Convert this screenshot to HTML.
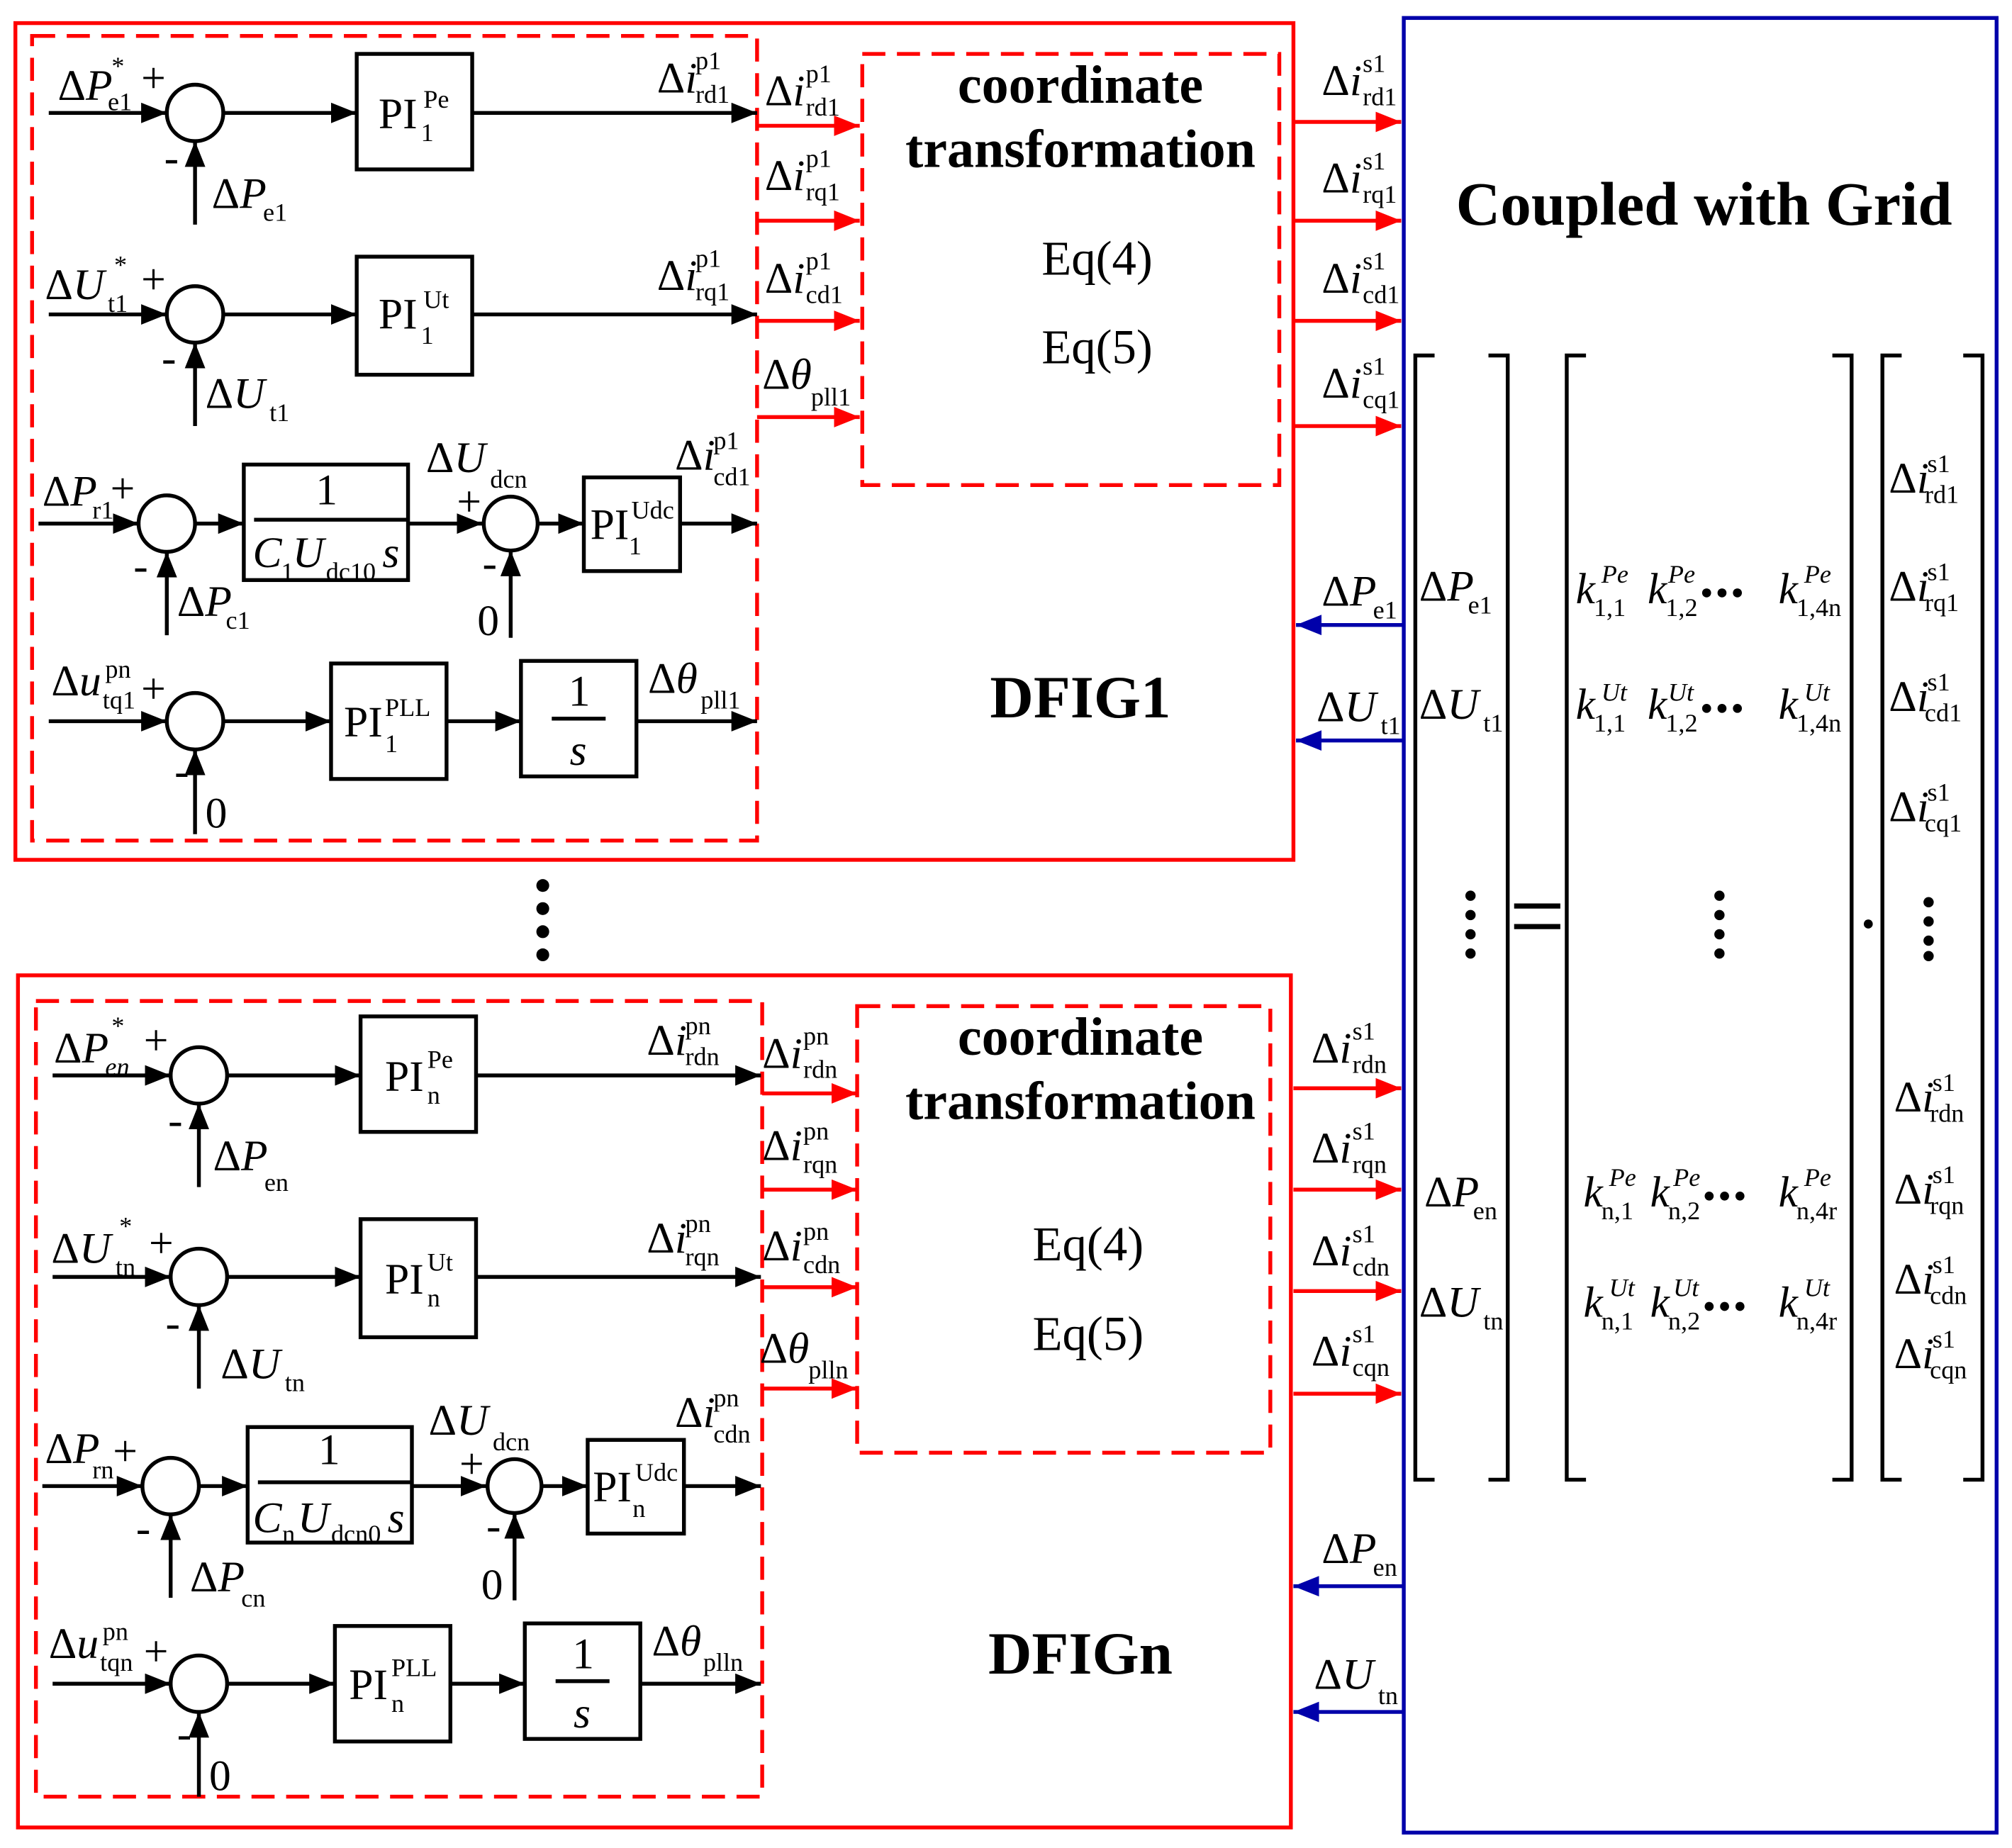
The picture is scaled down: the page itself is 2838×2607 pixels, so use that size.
<!DOCTYPE html>
<html><head><meta charset="utf-8"><style>
html,body{margin:0;padding:0;background:#fff}
svg{display:block}
text{font-family:"Liberation Serif",serif;fill:#000}
.b{font-size:34px}
.s{font-size:20px}
.i{font-style:italic}
</style></head><body>
<svg width="2838" height="2607" viewBox="0 0 1568 1440" preserveAspectRatio="none" xmlns="http://www.w3.org/2000/svg">
<defs>
<marker id="ar" markerWidth="20" markerHeight="16" refX="20" refY="8" orient="auto" markerUnits="userSpaceOnUse"><path d="M0,0L20,8L0,16z" fill="#f00"/></marker>
<marker id="ab" markerWidth="20" markerHeight="16" refX="20" refY="8" orient="auto" markerUnits="userSpaceOnUse"><path d="M0,0L20,8L0,16z" fill="#00a"/></marker>
<marker id="k" markerWidth="20" markerHeight="16" refX="20" refY="8" orient="auto" markerUnits="userSpaceOnUse"><path d="M0,0L20,8L0,16z" fill="#000"/></marker>
<g id="ctl" fill="none" stroke="#000" stroke-width="3">
 <line x1="38" y1="88" x2="130" y2="88" marker-end="url(#k)"/>
 <circle cx="152" cy="88" r="22"/>
 <line x1="174" y1="88" x2="278" y2="88" marker-end="url(#k)"/>
 <rect x="278" y="42" width="90" height="90"/>
 <line x1="368" y1="88" x2="590" y2="88" marker-end="url(#k)"/>
 <line x1="152" y1="175" x2="152" y2="110" marker-end="url(#k)"/>
 <line x1="38" y1="245" x2="130" y2="245" marker-end="url(#k)"/>
 <circle cx="152" cy="245" r="22"/>
 <line x1="174" y1="245" x2="278" y2="245" marker-end="url(#k)"/>
 <rect x="278" y="200" width="90" height="92"/>
 <line x1="368" y1="245" x2="590" y2="245" marker-end="url(#k)"/>
 <line x1="152" y1="332" x2="152" y2="267" marker-end="url(#k)"/>
 <line x1="30" y1="408" x2="108" y2="408" marker-end="url(#k)"/>
 <circle cx="130" cy="408" r="22"/>
 <line x1="152" y1="408" x2="190" y2="408" marker-end="url(#k)"/>
 <rect x="190" y="362" width="128" height="90"/>
 <line x1="198" y1="405" x2="318" y2="405"/>
 <line x1="318" y1="408" x2="376" y2="408" marker-end="url(#k)"/>
 <circle cx="398" cy="408" r="21"/>
 <line x1="419" y1="408" x2="455" y2="408" marker-end="url(#k)"/>
 <rect x="455" y="372" width="75" height="73"/>
 <line x1="530" y1="408" x2="590" y2="408" marker-end="url(#k)"/>
 <line x1="130" y1="495" x2="130" y2="430" marker-end="url(#k)"/>
 <line x1="398" y1="497" x2="398" y2="429" marker-end="url(#k)"/>
 <line x1="38" y1="562" x2="130" y2="562" marker-end="url(#k)"/>
 <circle cx="152" cy="562" r="22"/>
 <line x1="174" y1="562" x2="258" y2="562" marker-end="url(#k)"/>
 <rect x="258" y="517" width="90" height="90"/>
 <line x1="348" y1="562" x2="406" y2="562" marker-end="url(#k)"/>
 <rect x="406" y="515" width="90" height="90"/>
 <line x1="430" y1="560" x2="472" y2="560"/>
 <line x1="496" y1="562" x2="590" y2="562" marker-end="url(#k)"/>
 <line x1="152" y1="650" x2="152" y2="584" marker-end="url(#k)"/>
</g>
</defs>

<rect x="12" y="18" width="996" height="652" fill="none" stroke="#f00" stroke-width="3"/>
<rect x="25" y="28" width="565" height="627" fill="none" stroke="#f00" stroke-width="3" stroke-dasharray="18,9"/>
<rect x="672" y="42" width="325" height="336" fill="none" stroke="#f00" stroke-width="3" stroke-dasharray="18,9"/>
<use href="#ctl"/>
<g stroke="#f00" stroke-width="3">
<line x1="590" y1="98" x2="670" y2="98" marker-end="url(#ar)"/>
<line x1="590" y1="172" x2="670" y2="172" marker-end="url(#ar)"/>
<line x1="590" y1="250" x2="670" y2="250" marker-end="url(#ar)"/>
<line x1="590" y1="325" x2="670" y2="325" marker-end="url(#ar)"/>
<line x1="1008" y1="95" x2="1092" y2="95" marker-end="url(#ar)"/>
<line x1="1008" y1="172" x2="1092" y2="172" marker-end="url(#ar)"/>
<line x1="1008" y1="250" x2="1092" y2="250" marker-end="url(#ar)"/>
<line x1="1008" y1="332" x2="1092" y2="332" marker-end="url(#ar)"/>
</g>
<g stroke="#00a" stroke-width="3">
<line x1="1094" y1="487" x2="1010" y2="487" marker-end="url(#ab)"/>
<line x1="1094" y1="577" x2="1010" y2="577" marker-end="url(#ab)"/>
<line x1="1094" y1="1236" x2="1008" y2="1236" marker-end="url(#ab)"/>
<line x1="1094" y1="1334" x2="1008" y2="1334" marker-end="url(#ab)"/>
</g>
<text x="842" y="80" font-size="42" font-weight="bold" text-anchor="middle">coordinate</text>
<text x="842" y="130" font-size="42" font-weight="bold" text-anchor="middle">transformation</text>
<text x="855" y="214" font-size="38" text-anchor="middle">Eq(4)</text>
<text x="855" y="283" font-size="38" text-anchor="middle">Eq(5)</text>
<text x="842" y="559" font-size="47" font-weight="bold" text-anchor="middle">DFIG1</text>

<g class="b">
<text x="45" y="78">Δ<tspan class="i">P</tspan></text><text class="s i" x="86" y="58">*</text><text class="s" x="84" y="86">e1</text><text x="110" y="72">+</text>
<text x="128" y="134">-</text><text x="165" y="162">Δ<tspan class="i">P</tspan></text><text class="s" x="205" y="172">e1</text>
<text x="295" y="100">PI</text><text class="s" x="330" y="84">Pe</text><text class="s" x="328" y="110">1</text>
<text x="512" y="72">Δ<tspan class="i">i</tspan></text><text class="s" x="542" y="54">p1</text><text class="s" x="542" y="80">rd1</text>
<text x="596" y="82">Δ<tspan class="i">i</tspan></text><text class="s" x="628" y="64">p1</text><text class="s" x="628" y="90">rd1</text>
<text x="596" y="148">Δ<tspan class="i">i</tspan></text><text class="s" x="628" y="130">p1</text><text class="s" x="628" y="156">rq1</text>
<text x="596" y="228">Δ<tspan class="i">i</tspan></text><text class="s" x="628" y="210">p1</text><text class="s" x="628" y="236">cd1</text>
<text x="594" y="303">Δ<tspan class="i">θ</tspan></text><text class="s" x="632" y="316">pll1</text>

<text x="35" y="233">Δ<tspan class="i">U</tspan></text><text class="s i" x="88" y="213">*</text><text class="s" x="84" y="243">t1</text><text x="110" y="229">+</text>
<text x="126" y="290">-</text><text x="160" y="318">Δ<tspan class="i">U</tspan></text><text class="s" x="210" y="328">t1</text>
<text x="295" y="256">PI</text><text class="s" x="330" y="240">Ut</text><text class="s" x="328" y="268">1</text>
<text x="512" y="226">Δ<tspan class="i">i</tspan></text><text class="s" x="542" y="208">p1</text><text class="s" x="542" y="234">rq1</text>

<text x="33" y="394">Δ<tspan class="i">P</tspan></text><text class="s" x="72" y="404">r1</text><text x="86" y="392">+</text>
<text x="104" y="452">-</text><text x="138" y="480">Δ<tspan class="i">P</tspan></text><text class="s" x="176" y="490">c1</text>
<text x="246" y="393">1</text>
<text class="i" x="197" y="442">C</text><text class="s" x="219" y="452">1</text><text class="i" x="228" y="442">U</text><text class="s" x="254" y="452">dc10</text><text class="i" x="298" y="442">s</text>
<text x="332" y="368">Δ<tspan class="i">U</tspan></text><text class="s" x="382" y="380">dcn</text>
<text x="356" y="402">+</text><text x="376" y="450">-</text><text x="372" y="495">0</text>
<text x="460" y="420">PI</text><text class="s" x="492" y="404">Udc</text><text class="s" x="490" y="432">1</text>
<text x="526" y="366">Δ<tspan class="i">i</tspan></text><text class="s" x="556" y="350">p1</text><text class="s" x="556" y="378">cd1</text>

<text x="40" y="542">Δ<tspan class="i">u</tspan></text><text class="s" x="82" y="528">pn</text><text class="s" x="80" y="552">tq1</text><text x="110" y="548">+</text>
<text x="136" y="612">-</text><text x="160" y="645">0</text>
<text x="268" y="574">PI</text><text class="s" x="300" y="558">PLL</text><text class="s" x="300" y="586">1</text>
<text x="443" y="550">1</text><text class="i" x="444" y="596">s</text>
<text x="505" y="540">Δ<tspan class="i">θ</tspan></text><text class="s" x="546" y="552">pll1</text>

<text x="1030" y="74">Δ<tspan class="i">i</tspan></text><text class="s" x="1062" y="56">s1</text><text class="s" x="1062" y="82">rd1</text>
<text x="1030" y="150">Δ<tspan class="i">i</tspan></text><text class="s" x="1062" y="132">s1</text><text class="s" x="1062" y="158">rq1</text>
<text x="1030" y="228">Δ<tspan class="i">i</tspan></text><text class="s" x="1062" y="210">s1</text><text class="s" x="1062" y="236">cd1</text>
<text x="1030" y="310">Δ<tspan class="i">i</tspan></text><text class="s" x="1062" y="292">s1</text><text class="s" x="1062" y="318">cq1</text>
<text x="1030" y="472">Δ<tspan class="i">P</tspan></text><text class="s" x="1070" y="482">e1</text>
<text x="1026" y="562">Δ<tspan class="i">U</tspan></text><text class="s" x="1076" y="572">t1</text>
</g>

<g fill="#000"><circle cx="423" cy="690" r="5"/><circle cx="423" cy="708" r="5"/><circle cx="423" cy="726" r="5"/><circle cx="423" cy="744" r="5"/></g>

<rect x="14" y="760" width="992" height="664" fill="none" stroke="#f00" stroke-width="3"/>
<rect x="28" y="780" width="566" height="620" fill="none" stroke="#f00" stroke-width="3" stroke-dasharray="18,9"/>
<rect x="668" y="784" width="322" height="348" fill="none" stroke="#f00" stroke-width="3" stroke-dasharray="18,9"/>
<use href="#ctl" transform="translate(3,750)"/>
<g stroke="#f00" stroke-width="3">
<line x1="594" y1="852" x2="668" y2="852" marker-end="url(#ar)"/>
<line x1="594" y1="927" x2="668" y2="927" marker-end="url(#ar)"/>
<line x1="594" y1="1003" x2="668" y2="1003" marker-end="url(#ar)"/>
<line x1="594" y1="1082" x2="668" y2="1082" marker-end="url(#ar)"/>
<line x1="1008" y1="848" x2="1092" y2="848" marker-end="url(#ar)"/>
<line x1="1008" y1="927" x2="1092" y2="927" marker-end="url(#ar)"/>
<line x1="1008" y1="1006" x2="1092" y2="1006" marker-end="url(#ar)"/>
<line x1="1008" y1="1086" x2="1092" y2="1086" marker-end="url(#ar)"/>
</g>
<text x="842" y="822" font-size="42" font-weight="bold" text-anchor="middle">coordinate</text>
<text x="842" y="872" font-size="42" font-weight="bold" text-anchor="middle">transformation</text>
<text x="848" y="982" font-size="38" text-anchor="middle">Eq(4)</text>
<text x="848" y="1052" font-size="38" text-anchor="middle">Eq(5)</text>
<text x="842" y="1304" font-size="47" font-weight="bold" text-anchor="middle">DFIGn</text>

<g class="b">
<text x="42" y="828">Δ<tspan class="i">P</tspan></text><text class="s i" x="86" y="806">*</text><text class="s i" x="82" y="838">en</text><text x="112" y="822">+</text>
<text x="131" y="884">-</text><text x="166" y="912">Δ<tspan class="i">P</tspan></text><text class="s" x="206" y="928">en</text>
<text x="300" y="850">PI</text><text class="s" x="333" y="832">Pe</text><text class="s" x="333" y="860">n</text>
<text x="504" y="822">Δ<tspan class="i">i</tspan></text><text class="s" x="534" y="806">pn</text><text class="s" x="534" y="830">rdn</text>
<text x="594" y="832">Δ<tspan class="i">i</tspan></text><text class="s" x="626" y="814">pn</text><text class="s" x="626" y="840">rdn</text>
<text x="594" y="904">Δ<tspan class="i">i</tspan></text><text class="s" x="626" y="888">pn</text><text class="s" x="626" y="914">rqn</text>
<text x="594" y="982">Δ<tspan class="i">i</tspan></text><text class="s" x="626" y="966">pn</text><text class="s" x="626" y="992">cdn</text>
<text x="592" y="1062">Δ<tspan class="i">θ</tspan></text><text class="s" x="630" y="1074">plln</text>

<text x="40" y="984">Δ<tspan class="i">U</tspan></text><text class="s i" x="92" y="962">*</text><text class="s" x="90" y="994">tn</text><text x="116" y="980">+</text>
<text x="129" y="1042">-</text><text x="172" y="1074">Δ<tspan class="i">U</tspan></text><text class="s" x="222" y="1084">tn</text>
<text x="300" y="1008">PI</text><text class="s" x="333" y="990">Ut</text><text class="s" x="333" y="1018">n</text>
<text x="504" y="976">Δ<tspan class="i">i</tspan></text><text class="s" x="534" y="960">pn</text><text class="s" x="534" y="986">rqn</text>

<text x="35" y="1140">Δ<tspan class="i">P</tspan></text><text class="s" x="72" y="1152">rn</text><text x="88" y="1142">+</text>
<text x="106" y="1202">-</text><text x="148" y="1240">Δ<tspan class="i">P</tspan></text><text class="s" x="188" y="1252">cn</text>
<text x="248" y="1141">1</text>
<text class="i" x="197" y="1194">C</text><text class="s" x="220" y="1202">n</text><text class="i" x="232" y="1194">U</text><text class="s" x="258" y="1202">dcn0</text><text class="i" x="302" y="1194">s</text>
<text x="334" y="1118">Δ<tspan class="i">U</tspan></text><text class="s" x="384" y="1130">dcn</text>
<text x="358" y="1152">+</text><text x="379" y="1200">-</text><text x="375" y="1246">0</text>
<text x="462" y="1170">PI</text><text class="s" x="495" y="1154">Udc</text><text class="s" x="493" y="1182">n</text>
<text x="526" y="1112">Δ<tspan class="i">i</tspan></text><text class="s" x="556" y="1096">pn</text><text class="s" x="556" y="1124">cdn</text>

<text x="38" y="1292">Δ<tspan class="i">u</tspan></text><text class="s" x="80" y="1278">pn</text><text class="s" x="78" y="1302">tqn</text><text x="112" y="1298">+</text>
<text x="138" y="1362">-</text><text x="163" y="1395">0</text>
<text x="272" y="1324">PI</text><text class="s" x="305" y="1306">PLL</text><text class="s" x="305" y="1334">n</text>
<text x="446" y="1300">1</text><text class="i" x="447" y="1346">s</text>
<text x="508" y="1290">Δ<tspan class="i">θ</tspan></text><text class="s" x="548" y="1302">plln</text>

<text x="1022" y="828">Δ<tspan class="i">i</tspan></text><text class="s" x="1054" y="810">s1</text><text class="s" x="1054" y="836">rdn</text>
<text x="1022" y="906">Δ<tspan class="i">i</tspan></text><text class="s" x="1054" y="888">s1</text><text class="s" x="1054" y="914">rqn</text>
<text x="1022" y="986">Δ<tspan class="i">i</tspan></text><text class="s" x="1054" y="968">s1</text><text class="s" x="1054" y="994">cdn</text>
<text x="1022" y="1064">Δ<tspan class="i">i</tspan></text><text class="s" x="1054" y="1046">s1</text><text class="s" x="1054" y="1072">cqn</text>
<text x="1030" y="1218">Δ<tspan class="i">P</tspan></text><text class="s" x="1070" y="1228">en</text>
<text x="1024" y="1316">Δ<tspan class="i">U</tspan></text><text class="s" x="1074" y="1328">tn</text>
</g>

<rect x="1094" y="14" width="462" height="1414" fill="none" stroke="#00a" stroke-width="3"/>
<text x="1328" y="175" font-size="48" font-weight="bold" text-anchor="middle">Coupled with Grid</text>
<g fill="none" stroke="#000" stroke-width="3">
<path d="M1118,277H1103V1153H1118"/><path d="M1160,277H1175V1153H1160"/>
<path d="M1236,277H1221V1153H1236"/><path d="M1428,277H1443V1153H1428"/>
<path d="M1482,277H1467V1153H1482"/><path d="M1530,277H1545V1153H1530"/>
<line x1="1180" y1="706" x2="1216" y2="706" stroke-width="4"/><line x1="1180" y1="722" x2="1216" y2="722" stroke-width="4"/>
</g>
<g fill="#000">
<circle cx="1456" cy="720" r="3.5"/>
<circle cx="1146" cy="698" r="4"/><circle cx="1146" cy="713" r="4"/><circle cx="1146" cy="728" r="4"/><circle cx="1146" cy="743" r="4"/>
<circle cx="1340" cy="698" r="4"/><circle cx="1340" cy="713" r="4"/><circle cx="1340" cy="728" r="4"/><circle cx="1340" cy="743" r="4"/>
<circle cx="1503" cy="703" r="4"/><circle cx="1503" cy="718" r="4"/><circle cx="1503" cy="733" r="4"/><circle cx="1503" cy="745" r="4"/>
<circle cx="1330" cy="462" r="3.5"/><circle cx="1342" cy="462" r="3.5"/><circle cx="1354" cy="462" r="3.5"/>
<circle cx="1330" cy="552" r="3.5"/><circle cx="1342" cy="552" r="3.5"/><circle cx="1354" cy="552" r="3.5"/>
<circle cx="1332" cy="932" r="3.5"/><circle cx="1344" cy="932" r="3.5"/><circle cx="1356" cy="932" r="3.5"/>
<circle cx="1332" cy="1018" r="3.5"/><circle cx="1344" cy="1018" r="3.5"/><circle cx="1356" cy="1018" r="3.5"/>
</g>
<g class="b">
<text x="1106" y="468">Δ<tspan class="i">P</tspan></text><text class="s" x="1144" y="478">e1</text>
<text x="1106" y="560">Δ<tspan class="i">U</tspan></text><text class="s" x="1156" y="570">t1</text>
<text x="1110" y="940">Δ<tspan class="i">P</tspan></text><text class="s" x="1148" y="950">en</text>
<text x="1106" y="1026">Δ<tspan class="i">U</tspan></text><text class="s" x="1156" y="1036">tn</text>

<text class="i" x="1228" y="470">k</text><text class="s i" x="1248" y="454">Pe</text><text class="s" x="1242" y="480">1,1</text>
<text class="i" x="1284" y="470">k</text><text class="s i" x="1300" y="454">Pe</text><text class="s" x="1298" y="480">1,2</text>
<text class="i" x="1386" y="470">k</text><text class="s i" x="1406" y="454">Pe</text><text class="s" x="1400" y="480">1,4n</text>
<text class="i" x="1228" y="560">k</text><text class="s i" x="1248" y="546">Ut</text><text class="s" x="1242" y="570">1,1</text>
<text class="i" x="1284" y="560">k</text><text class="s i" x="1300" y="546">Ut</text><text class="s" x="1298" y="570">1,2</text>
<text class="i" x="1386" y="560">k</text><text class="s i" x="1406" y="546">Ut</text><text class="s" x="1400" y="570">1,4n</text>
<text class="i" x="1234" y="940">k</text><text class="s i" x="1254" y="924">Pe</text><text class="s" x="1248" y="950">n,1</text>
<text class="i" x="1286" y="940">k</text><text class="s i" x="1304" y="924">Pe</text><text class="s" x="1300" y="950">n,2</text>
<text class="i" x="1386" y="940">k</text><text class="s i" x="1406" y="924">Pe</text><text class="s" x="1400" y="950">n,4r</text>
<text class="i" x="1234" y="1026">k</text><text class="s i" x="1254" y="1010">Ut</text><text class="s" x="1248" y="1036">n,1</text>
<text class="i" x="1286" y="1026">k</text><text class="s i" x="1304" y="1010">Ut</text><text class="s" x="1300" y="1036">n,2</text>
<text class="i" x="1386" y="1026">k</text><text class="s i" x="1406" y="1010">Ut</text><text class="s" x="1400" y="1036">n,4r</text>

<text x="1472" y="384">Δ<tspan class="i">i</tspan></text><text class="s" x="1502" y="368">s1</text><text class="s" x="1500" y="392">rd1</text>
<text x="1472" y="468">Δ<tspan class="i">i</tspan></text><text class="s" x="1502" y="452">s1</text><text class="s" x="1500" y="476">rq1</text>
<text x="1472" y="554">Δ<tspan class="i">i</tspan></text><text class="s" x="1502" y="538">s1</text><text class="s" x="1500" y="562">cd1</text>
<text x="1472" y="640">Δ<tspan class="i">i</tspan></text><text class="s" x="1502" y="624">s1</text><text class="s" x="1500" y="648">cq1</text>
<text x="1476" y="866">Δ<tspan class="i">i</tspan></text><text class="s" x="1506" y="850">s1</text><text class="s" x="1504" y="874">rdn</text>
<text x="1476" y="938">Δ<tspan class="i">i</tspan></text><text class="s" x="1506" y="922">s1</text><text class="s" x="1504" y="946">rqn</text>
<text x="1476" y="1008">Δ<tspan class="i">i</tspan></text><text class="s" x="1506" y="992">s1</text><text class="s" x="1504" y="1016">cdn</text>
<text x="1476" y="1066">Δ<tspan class="i">i</tspan></text><text class="s" x="1506" y="1050">s1</text><text class="s" x="1504" y="1074">cqn</text>
</g>
</svg>
</body></html>
